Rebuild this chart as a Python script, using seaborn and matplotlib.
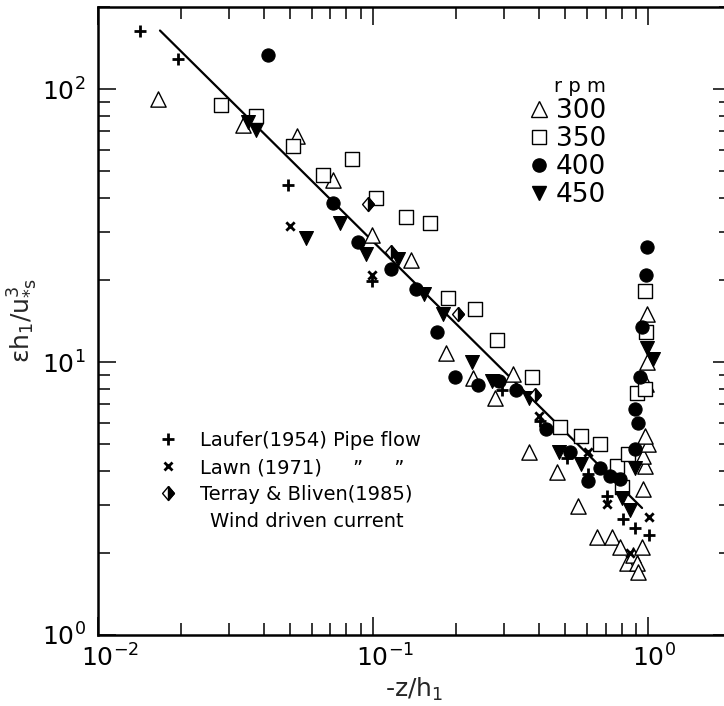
import matplotlib
matplotlib.use("Agg")
import matplotlib.pyplot as plt
import seaborn as sns
from matplotlib import font_manager
from matplotlib.lines import Line2D
from matplotlib.path import Path
from matplotlib.legend_handler import HandlerTuple
from matplotlib.ticker import FixedLocator, LogLocator, NullFormatter
from matplotlib.transforms import ScaledTranslation

# ---- dissipation profiles: eps*h1/u*s^3 against depth -z/h1 ----
z300 = [0.0165, 0.0337, 0.0529, 0.0715, 0.0992, 0.137, 0.184, 0.231, 0.278, 0.323,
        0.369, 0.467, 0.557, 0.652, 0.740, 0.791, 0.839, 0.882, 0.912, 0.920,
        0.951, 0.959, 0.975, 0.959, 1.0, 0.975, 0.983, 0.992, 0.992]
e300 = [91.9, 74.2, 67.4, 46.4, 29.1, 23.6, 10.8, 8.74, 7.39, 9.04,
        4.68, 3.95, 2.96, 2.28, 2.28, 2.10, 1.83, 1.96, 1.83, 1.70,
        2.10, 3.44, 4.17, 4.54, 5.02, 5.35, 8.31, 10.0, 15.0]

z350 = [0.0279, 0.0375, 0.0512, 0.0658, 0.0839, 0.1025, 0.132, 0.161, 0.187, 0.235,
        0.283, 0.379, 0.477, 0.568, 0.669, 0.771, 0.846, 0.805, 0.912, 0.975,
        0.983, 0.975]
e350 = [87.4, 79.7, 61.9, 48.5, 55.5, 40.0, 34.1, 32.3, 17.1, 15.7,
        12.0, 8.85, 5.79, 5.35, 5.02, 4.17, 4.62, 3.50, 7.7, 8.0,
        12.9, 18.2]

z400 = [0.0415, 0.0715, 0.0882, 0.116, 0.143, 0.171, 0.199, 0.241, 0.287, 0.330,
        0.426, 0.520, 0.605, 0.669, 0.728, 0.791, 0.897, 0.897, 0.920, 0.935,
        0.951, 0.983, 0.992]
e400 = [133.0, 38.4, 27.6, 22.0, 18.6, 12.9, 8.85, 8.21, 8.49, 7.87,
        5.69, 4.68, 3.68, 4.10, 3.84, 3.74, 4.81, 6.74, 5.99, 8.85,
        13.4, 20.9, 26.5]

z450 = [0.0351, 0.0375, 0.0571, 0.0759, 0.0943, 0.123, 0.153, 0.180, 0.229, 0.271,
        0.369, 0.475, 0.568, 0.805, 0.860, 0.897, 0.992, 1.04]
e450 = [76.0, 70.8, 28.4, 32.3, 24.8, 23.8, 17.7, 15.0, 10.0, 8.49,
        7.39, 4.68, 4.24, 3.19, 2.86, 4.10, 11.25, 10.3]

# reference data sets
z_laufer = [0.0142, 0.0196, 0.0491, 0.0992, 0.2945, 0.405, 0.508, 0.605, 0.707, 0.811, 0.897, 1.01]
e_laufer = [163.5, 128.7, 44.4, 19.8, 7.87, 6.09, 4.44, 3.90, 3.24, 2.65, 2.46, 2.32]

z_lawn = [0.0499, 0.0992, 0.400, 0.605, 0.707, 0.860, 1.01]
e_lawn = [31.4, 20.9, 6.35, 4.68, 3.03, 1.99, 2.70]

z_terray = [0.0959, 0.116, 0.204, 0.388]
e_terray = [38.0, 25.4, 15.0, 7.58]

# wall-layer line
z_fit = [0.0168, 0.95]
e_fit = [164.0, 2.92]

rpm_labels = ["300", "350", "400", "450"]
ref_labels = ["Laufer(1954) Pipe flow",
              "Lawn (1971)     \u201d     \u201d",
              "Terray & Bliven(1985)"]
ref_note = "Wind driven current"

# ---- style ----
sns.set_theme(style="ticks")
names = {f.name for f in font_manager.fontManager.ttflist}
FONT = next((n for n in ("Liberation Sans Narrow", "DejaVu Sans") if n in names), "DejaVu Sans")
plt.rcParams.update({
    "font.family": [FONT, "DejaVu Sans"],
    "mathtext.fontset": "custom",
    "mathtext.rm": FONT,
    "mathtext.it": FONT,
    "mathtext.bf": FONT,
    "mathtext.sf": FONT,
    "mathtext.default": "regular",
    "axes.linewidth": 1.8,
    "axes.edgecolor": "black",
    "text.color": "black",
    "xtick.color": "black",
    "ytick.color": "black",
})

fig = plt.figure(figsize=(7.24, 7.06), dpi=100)
ax = fig.add_axes([98 / 724, 71 / 706, 633 / 724, 628 / 706])
ax.set_facecolor("white")
fig.patch.set_facecolor("white")

# fitted line
sns.lineplot(x=z_fit, y=e_fit, color="black", linewidth=1.6, ax=ax, zorder=2)

# measurements
sns.scatterplot(x=z300, y=e300, marker="^", s=11 ** 2, facecolor="white",
                edgecolor="black", linewidth=1.0, ax=ax, zorder=3)
sns.scatterplot(x=z350, y=e350, marker="s", s=9.5 ** 2, facecolor="white",
                edgecolor="black", linewidth=1.0, ax=ax, zorder=3)
sns.scatterplot(x=z400, y=e400, marker="o", s=9.5 ** 2, facecolor="black",
                edgecolor="black", linewidth=0.8, ax=ax, zorder=4)
sns.scatterplot(x=z450, y=e450, marker="v", s=10 ** 2, facecolor="black",
                edgecolor="black", linewidth=0.8, ax=ax, zorder=4)

diamond = Path([(0, 1), (0.85, 0), (0, -1), (-0.85, 0), (0, 1)])
half_diamond = Path([(0, 1), (0.85, 0), (0, -1), (0, 1)])
sns.scatterplot(x=z_terray, y=e_terray, marker=diamond, s=10 ** 2, facecolor="white",
                edgecolor="black", linewidth=1.0, ax=ax, zorder=5)
sns.scatterplot(x=z_terray, y=e_terray, marker=half_diamond, s=10 ** 2, facecolor="black",
                edgecolor="black", linewidth=1.0, ax=ax, zorder=5)
sns.scatterplot(x=z_laufer, y=e_laufer, marker="+", s=8 ** 2, color="black",
                linewidth=2.0, ax=ax, zorder=5)
sns.scatterplot(x=z_lawn, y=e_lawn, marker="x", s=6 ** 2, color="black",
                linewidth=2.0, ax=ax, zorder=5)

# ---- axes ----
ax.set_xscale("log")
ax.set_yscale("log")
ax.set_xlim(0.01, 2.0)
ax.set_ylim(1.0, 200.0)
ax.xaxis.set_major_locator(FixedLocator([0.01, 0.1, 1.0]))
ax.yaxis.set_major_locator(FixedLocator([1.0, 10.0, 100.0]))
ax.xaxis.set_minor_locator(LogLocator(base=10, subs=range(2, 10)))
ax.yaxis.set_minor_locator(LogLocator(base=10, subs=range(2, 10)))
ax.xaxis.set_minor_formatter(NullFormatter())
ax.yaxis.set_minor_formatter(NullFormatter())
ax.tick_params(which="both", direction="in", top=True, right=True, width=1.1)
ax.tick_params(which="major", length=13, labelsize=18)
ax.tick_params(which="minor", length=8.5)
ax.tick_params(axis="x", which="major", pad=7)
ax.tick_params(axis="y", which="major", pad=9)
for sp in ax.spines.values():
    sp.set_linewidth(1.8)

# keep the mantissa "10" centred under each x tick, exponent hanging right
fig.canvas.draw()
for lab, shift in zip(ax.get_xticklabels(), (8.5, 8.5, 4.5)):
    lab.set_transform(lab.get_transform() + ScaledTranslation(shift / 72, 0, fig.dpi_scale_trans))

ax.set_xlabel(r"-z/h$_1$", fontsize=18, labelpad=3)
ax.set_ylabel(r"$\varepsilon h_1/u_{*s}^{3}$", fontsize=18, labelpad=1)

# ---- legends ----
rpm_handles = [
    Line2D([], [], ls="", marker="^", ms=11, mfc="white", mec="black", mew=1.0),
    Line2D([], [], ls="", marker="s", ms=9.5, mfc="white", mec="black", mew=1.0),
    Line2D([], [], ls="", marker="o", ms=9.5, mfc="black", mec="black"),
    Line2D([], [], ls="", marker="v", ms=10, mfc="black", mec="black"),
]
leg1 = ax.legend(rpm_handles, rpm_labels, title="r p m", loc="upper left",
                 bbox_to_anchor=(0.687, 0.8885), frameon=False, fontsize=19,
                 title_fontsize=14, handlelength=0.5, handletextpad=0.36,
                 labelspacing=0.08, borderpad=0, borderaxespad=0, alignment="right")
ax.add_artist(leg1)

ref_handles = [
    Line2D([], [], ls="", marker="+", ms=8, mec="black", mew=2.0),
    Line2D([], [], ls="", marker="x", ms=6, mec="black", mew=2.0),
    (Line2D([], [], ls="", marker=diamond, ms=10, mfc="white", mec="black", mew=1.0),
     Line2D([], [], ls="", marker=half_diamond, ms=10, mfc="black", mec="black", mew=1.0)),
]
ax.legend(ref_handles, ref_labels, loc="upper left", bbox_to_anchor=(0.0953, 0.3250),
          frameon=False, fontsize=14, handlelength=1.0, handletextpad=1.15,
          labelspacing=0.42, borderpad=0, borderaxespad=0,
          handler_map={tuple: HandlerTuple(ndivide=1, pad=0)})
ax.text(0.330, 0.1815, ref_note, transform=ax.transAxes, fontsize=14,
        ha="center", va="center")

fig.savefig("out.png", dpi=100, facecolor="white")
